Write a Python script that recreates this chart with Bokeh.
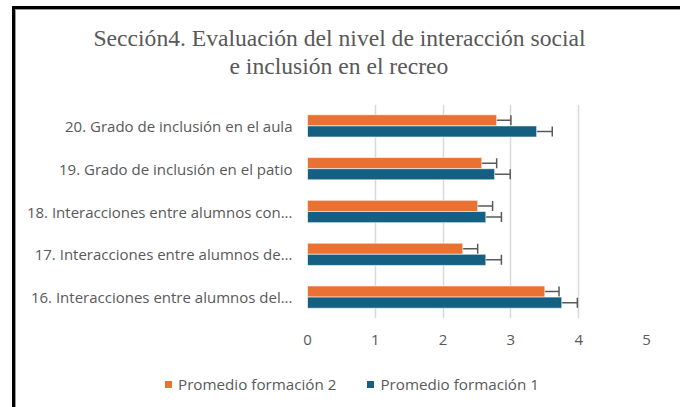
from bokeh.plotting import figure
from bokeh.layouts import column
from bokeh.models import (ColumnDataSource, FactorRange, Range1d, Whisker, TeeHead,
                          Title, Div)
from bokeh.transform import dodge
from bokeh.embed import file_html
from bokeh.resources import INLINE

# ---- data (bottom -> top) ----
categories = [
    "16. Interacciones entre alumnos del...",
    "17. Interacciones entre alumnos de...",
    "18. Interacciones entre alumnos con...",
    "19. Grado de inclusión en el patio",
    "20. Grado de inclusión en el aula",
]
promedio_f2 = [3.50, 2.29, 2.51, 2.57, 2.79]
error_f2 = [0.21, 0.22, 0.22, 0.22, 0.21]
promedio_f1 = [3.75, 2.63, 2.63, 2.76, 3.38]
error_f1 = [0.23, 0.23, 0.23, 0.23, 0.23]
x_ticks = [0, 1, 2, 3, 4, 5]
series_names = ["Promedio formación 2", "Promedio formación 1"]
title_lines = ["Sección4. Evaluación del nivel de interacción social",
               "e inclusión en el recreo"]

ORANGE = "#E97132"
BLUE = "#156082"
GRAY = "#595959"

src = ColumnDataSource(dict(
    cat=categories,
    f2=promedio_f2, f2_lo=[v - e for v, e in zip(promedio_f2, error_f2)],
    f2_hi=[v + e for v, e in zip(promedio_f2, error_f2)],
    f1=promedio_f1, f1_lo=[v - e for v, e in zip(promedio_f1, error_f1)],
    f1_hi=[v + e for v, e in zip(promedio_f1, error_f1)],
))

border_css = (":host::after{content:'';position:absolute;left:12px;top:6px;right:0;"
              "bottom:0;border:3px solid black;border-bottom:none;pointer-events:none;"
              "z-index:100;box-shadow:inset 1px 1px 0 #9a9a9a, inset -1px 0 0 #9a9a9a;}")

p = figure(frame_width=339, frame_height=214, y_range=FactorRange(factors=categories),
           x_range=Range1d(0, 5), output_backend="svg", toolbar_location=None,
           min_border_left=307, min_border_right=30, min_border_top=104,
           min_border_bottom=37)
p.title = None
p.outline_line_color = None

off = 0.13
h = 0.26
r2 = p.hbar(y=dodge("cat", off, range=p.y_range), right="f2", left=0, height=h,
            source=src, fill_color=ORANGE, line_color="white", line_width=0.6)
r1 = p.hbar(y=dodge("cat", -off, range=p.y_range), right="f1", left=0, height=h,
            source=src, fill_color=BLUE, line_color="white", line_width=0.6)

for col, o in (("f2", off), ("f1", -off)):
    w = Whisker(base=dodge("cat", o, range=p.y_range), lower=col + "_lo", upper=col + "_hi",
                dimension="width", source=src, line_color=GRAY, line_width=1.5,
                upper_head=TeeHead(size=10, line_color=GRAY, line_width=1.5),
                lower_head=TeeHead(size=10, line_color=GRAY, line_width=1.5))
    p.add_layout(w)

# axes
p.xaxis.ticker = x_ticks
p.xaxis.axis_line_color = None
p.xaxis.major_tick_line_color = None
p.xaxis.minor_tick_line_color = None
p.xaxis.major_label_text_font = "Open Sans"
p.xaxis.major_label_text_font_size = "15px"
p.xaxis.major_label_text_color = GRAY
p.xaxis.major_label_standoff = 10

p.yaxis.axis_line_color = None
p.yaxis.major_tick_line_color = None
p.yaxis.major_label_text_font = "Open Sans"
p.yaxis.major_label_text_font_size = "15px"
p.yaxis.major_label_text_color = GRAY
p.yaxis.major_label_standoff = 9

p.xgrid.grid_line_color = "#D9D9D9"
p.xgrid.grid_line_width = 1.5
p.ygrid.grid_line_color = None

# titles: spacer nearest the frame, then line 2, then line 1
p.add_layout(Title(text=" ", text_font_size="1px", standoff=23), "above")
p.add_layout(Title(text=title_lines[1], align="left", offset=-78,
                   text_font="Liberation Serif", text_font_size="23.6px",
                   text_font_style="normal", text_color=GRAY, standoff=0), "above")
p.add_layout(Title(text=title_lines[0], align="left", offset=-214,
                   text_font="Liberation Serif", text_font_size="23.6px",
                   text_font_style="normal", text_color=GRAY, standoff=0), "above")

# legend strip below the chart (HTML, real text)
swatch = ("<span style=\"display:inline-block;width:7px;height:7px;background:{c};"
          "margin:0 6px 0 {ml}px\"></span>")
legend_html = (
    "<div style=\"display:flex;align-items:center;height:49px;padding-left:160px;"
    "font-family:'Open Sans';font-size:15.2px;color:" + GRAY + ";white-space:nowrap\">"
    + swatch.format(c=ORANGE, ml=0) + "<span>" + series_names[0] + "</span>"
    + swatch.format(c=BLUE, ml=31) + "<span>" + series_names[1] + "</span>"
    + "</div>"
)
legend_div = Div(text=legend_html, width=676, height=52)

layout = column(p, legend_div, spacing=0, stylesheets=[border_css])

open("out.html", "w").write(file_html(layout, INLINE))
